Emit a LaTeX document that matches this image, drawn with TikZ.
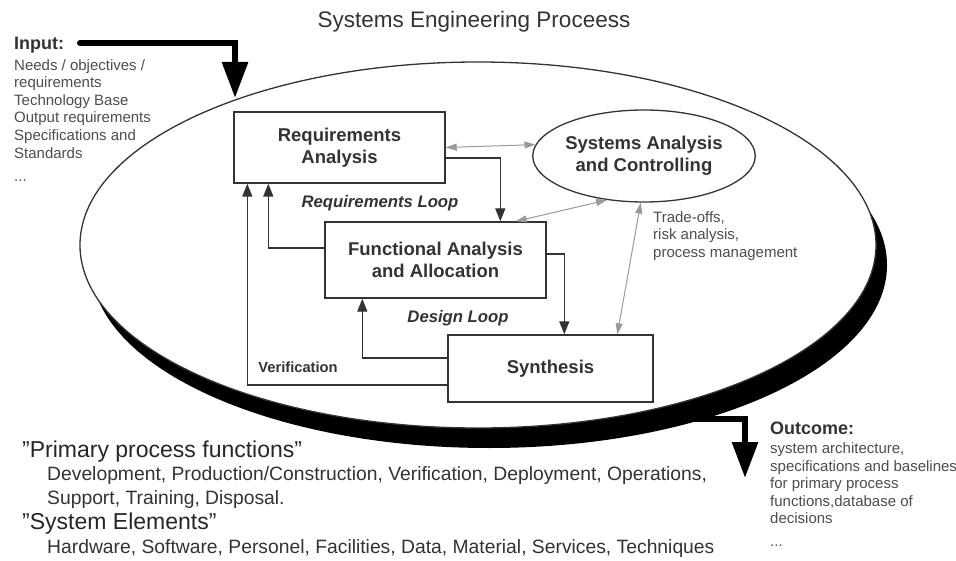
\documentclass[tikz,border=0pt]{standalone}
\usepackage{fontspec}
\setmainfont{Liberation Sans}
\usepackage{tikz}
\usetikzlibrary{calc,arrows.meta,shapes.geometric}
\definecolor{ink}{HTML}{333333}
\definecolor{txt}{HTML}{4D4D4D}
\definecolor{linkgray}{HTML}{9A9A9A}
\tikzstyle{block} = [rectangle, draw=ink, line width=1.4bp, fill=white, text=ink, align=center, font=\fontsize{18.5bp}{22bp}\selectfont\bfseries]
\tikzstyle{looplabel} = [text=ink, inner sep=0pt, font=\fontsize{16.7bp}{20bp}\selectfont\bfseries\itshape]
\tikzstyle{sidetext} = [text=txt, align=left, inner sep=0pt, font=\fontsize{15bp}{17.6bp}\selectfont]
\tikzstyle{sidehead} = [text=ink, inner sep=0pt, anchor=base west, font=\fontsize{18bp}{20bp}\selectfont\bfseries]
\tikzstyle{bottomhead} = [text=black!85, inner sep=0pt, anchor=base west, font=\fontsize{23bp}{26bp}\selectfont]
\tikzstyle{bottomline} = [text=ink, inner sep=0pt, anchor=base west, font=\fontsize{19.3bp}{24bp}\selectfont]
\tikzstyle{arrow} = [draw=ink, line width=1.4bp, -{Triangle[length=13bp,width=10bp]}]
\tikzstyle{linkarrow} = [draw=linkgray, line width=1bp, {Triangle[length=11bp,width=7bp]}-{Triangle[length=11bp,width=7bp]}]
\tikzstyle{bigarrow} = [draw=black, line width=6bp, -{Triangle[length=36bp,width=25bp]}]

\begin{document}
\begin{tikzpicture}
		[x=1bp, y=-1bp]
		\fill[white] (0,0) rectangle (956,561);
		\useasboundingbox (0,0) rectangle (956,561);
		
		\node[text=ink, inner sep=0pt, anchor=base, font=\fontsize{22.5bp}{26bp}\selectfont] (title) at (474,28) {Systems Engineering Proceess};
		
		\node[ellipse, fill=black, inner sep=0pt, minimum width=796bp, minimum height=366bp] (shadow) at (489,265) {};
		\node[ellipse, draw=ink, fill=white, line width=1.3bp, inner sep=0pt, minimum width=796bp, minimum height=366bp] (frame) at (478,245) {};
		
		\node[block, minimum width=211bp, minimum height=71bp] (req) at (339.5,147.5) {Requirements\\Analysis};
		\node[block, minimum width=221bp, minimum height=76bp] (func) at (435.5,260) {Functional Analysis\\and Allocation};
		\node[block, minimum width=205bp, minimum height=67bp] (synth) at (550.5,368.5) {Synthesis};
		\node[block, ellipse, line width=1.3bp, inner sep=0pt, minimum width=216bp, minimum height=92bp] (sac) at (644,156) {Systems Analysis\\and Controlling};
		
		\node[looplabel] (reqloop) at (380,203) {Requirements Loop};
		\node[looplabel] (designloop) at (458,318) {Design Loop};
		\node[looplabel, font=\fontsize{14.7bp}{17bp}\selectfont\bfseries] (verif) at (298,367) {Verification};
		\node[sidetext, anchor=north west] (tradeoffs) at (653,211) {Trade-offs,\\risk analysis,\\process management};
		
		\node[sidehead] (input) at (14,49.5) {Input:};
		\node[sidetext, anchor=north west] (inputlist) at (14,59) {Needs / objectives /\\requirements\\Technology Base\\Output requirements\\Specifications and\\Standards\\[6bp]...};
		\node[sidehead] (outcome) at (770,434.5) {Outcome:};
		\node[sidetext, anchor=north west] (outcomelist) at (770,442.5) {system architecture,\\specifications and baselines\\for primary process\\functions,database of\\decisions\\[5bp]...};
		
		\node[bottomhead] (primary) at (22,457) {"Primary process functions"};
		\node[bottomline] (primary1) at (47,480) {Development, Production/Construction, Verification, Deployment, Operations,};
		\node[bottomline] (primary2) at (47,504) {Support, Training, Disposal.};
		\node[bottomhead] (elements) at (22,529) {"System Elements"};
		\node[bottomline] (elements1) at (47,553) {Hardware, Software, Personel, Facilities, Data, Material, Services, Techniques};
		
		\coordinate (inhead) at (235,98);
		\coordinate (outhead) at (745,478);
		\draw[bigarrow, line cap=round] (80,43) -| (inhead);
		\draw[bigarrow] (680,419) -| (outhead);
		
		\draw[arrow] ($(req.east)+(0,10.5)$) -| ($(func.north west)+(176,0)$);
		\draw[arrow] ($(func.east)+(0,-6)$) -| ($(synth.north west)+(117,0)$);
		\draw[arrow] ($(synth.west)+(0,-10.5)$) -| ($(func.south west)+(38,0)$);
		\draw[arrow] ($(func.west)+(0,-12)$) -| ($(req.south west)+(35,0)$);
		\draw[arrow] ($(synth.west)+(0,16.5)$) -| ($(req.south west)+(14,0)$);
		
		\draw[linkarrow] (req.east) -- (sac.174);
		\draw[linkarrow] ($(func.north east)+(-31,0)$) -- (sac.230);
		\draw[linkarrow] ($(synth.north west)+(170,0)$) -- (sac.266);
		\end{tikzpicture}
\end{document}
